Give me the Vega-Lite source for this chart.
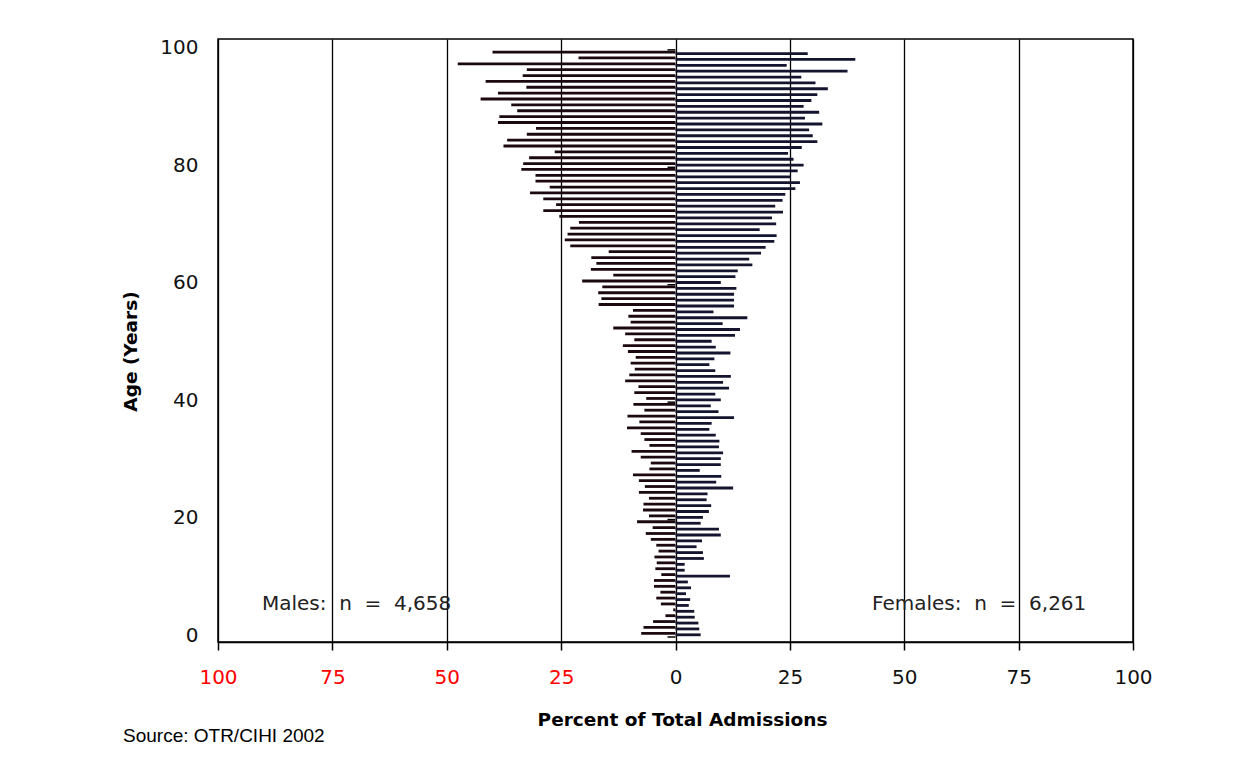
{
  "$schema": "https://vega.github.io/schema/vega-lite/v6.json",
  "width": 915,
  "height": 603,
  "autosize": {"type": "none"},
  "padding": {"left": 218, "top": 39, "right": 115, "bottom": 123},
  "background": "white",
  "config": {"view": {"stroke": "black", "strokeWidth": 1.5}, "font": "DejaVu Sans"},
  "title": {"text": "Source: OTR/CIHI 2002", "orient": "bottom", "anchor": "start", "frame": "group", "dx": -95, "offset": 13, "baseline": "alphabetic", "font": "Liberation Sans", "fontSize": 19, "fontWeight": "normal", "color": "black"},
  "data": {"values": [
    {"age": 99, "male": -40.0, "female": 28.9},
    {"age": 98, "male": -21.2, "female": 39.3},
    {"age": 97, "male": -47.6, "female": 24.3},
    {"age": 96, "male": -32.5, "female": 37.6},
    {"age": 95, "male": -33.4, "female": 27.5},
    {"age": 94, "male": -41.5, "female": 30.6},
    {"age": 93, "male": -32.6, "female": 33.3},
    {"age": 92, "male": -38.8, "female": 31.0},
    {"age": 91, "male": -42.6, "female": 29.7},
    {"age": 90, "male": -35.9, "female": 28.0},
    {"age": 89, "male": -34.6, "female": 31.4},
    {"age": 88, "male": -38.5, "female": 28.3},
    {"age": 87, "male": -38.8, "female": 32.1},
    {"age": 86, "male": -30.5, "female": 29.2},
    {"age": 85, "male": -32.5, "female": 30.0},
    {"age": 84, "male": -36.8, "female": 31.0},
    {"age": 83, "male": -37.6, "female": 27.6},
    {"age": 82, "male": -26.4, "female": 24.6},
    {"age": 81, "male": -32.0, "female": 25.8},
    {"age": 80, "male": -33.3, "female": 28.0},
    {"age": 79, "male": -33.7, "female": 26.7},
    {"age": 78, "male": -30.6, "female": 25.2},
    {"age": 77, "male": -30.6, "female": 27.2},
    {"age": 76, "male": -27.5, "female": 26.2},
    {"age": 75, "male": -31.8, "female": 24.0},
    {"age": 74, "male": -28.9, "female": 23.4},
    {"age": 73, "male": -26.1, "female": 21.8},
    {"age": 72, "male": -28.9, "female": 23.5},
    {"age": 71, "male": -25.4, "female": 21.1},
    {"age": 70, "male": -21.1, "female": 22.0},
    {"age": 69, "male": -23.0, "female": 18.4},
    {"age": 68, "male": -23.6, "female": 22.1},
    {"age": 67, "male": -24.2, "female": 21.6},
    {"age": 66, "male": -23.0, "female": 19.7},
    {"age": 65, "male": -14.6, "female": 18.7},
    {"age": 64, "male": -18.4, "female": 16.1},
    {"age": 63, "male": -17.3, "female": 16.8},
    {"age": 62, "male": -18.5, "female": 13.6},
    {"age": 61, "male": -13.6, "female": 13.1},
    {"age": 60, "male": -20.4, "female": 9.9},
    {"age": 59, "male": -16.0, "female": 13.3},
    {"age": 58, "male": -16.9, "female": 12.8},
    {"age": 57, "male": -16.2, "female": 12.8},
    {"age": 56, "male": -16.8, "female": 12.8},
    {"age": 55, "male": -9.3, "female": 8.3},
    {"age": 54, "male": -10.3, "female": 15.7},
    {"age": 53, "male": -9.8, "female": 10.3},
    {"age": 52, "male": -13.6, "female": 14.1},
    {"age": 51, "male": -11.0, "female": 13.0},
    {"age": 50, "male": -9.0, "female": 7.9},
    {"age": 49, "male": -11.5, "female": 8.8},
    {"age": 48, "male": -10.4, "female": 12.0},
    {"age": 47, "male": -8.7, "female": 8.5},
    {"age": 46, "male": -9.8, "female": 7.4},
    {"age": 45, "male": -8.9, "female": 8.7},
    {"age": 44, "male": -10.1, "female": 12.1},
    {"age": 43, "male": -11.0, "female": 10.4},
    {"age": 42, "male": -8.1, "female": 11.7},
    {"age": 41, "male": -9.0, "female": 8.7},
    {"age": 40, "male": -6.4, "female": 9.9},
    {"age": 39, "male": -9.2, "female": 7.7},
    {"age": 38, "male": -6.8, "female": 9.4},
    {"age": 37, "male": -10.5, "female": 12.8},
    {"age": 36, "male": -7.9, "female": 7.9},
    {"age": 35, "male": -10.6, "female": 7.4},
    {"age": 34, "male": -7.6, "female": 8.8},
    {"age": 33, "male": -6.8, "female": 9.6},
    {"age": 32, "male": -5.7, "female": 9.5},
    {"age": 31, "male": -9.6, "female": 10.4},
    {"age": 30, "male": -7.6, "female": 9.9},
    {"age": 29, "male": -5.4, "female": 9.9},
    {"age": 28, "male": -5.7, "female": 5.3},
    {"age": 27, "male": -9.3, "female": 10.0},
    {"age": 26, "male": -8.0, "female": 8.9},
    {"age": 25, "male": -6.7, "female": 12.6},
    {"age": 24, "male": -8.0, "female": 7.0},
    {"age": 23, "male": -5.8, "female": 6.8},
    {"age": 22, "male": -7.0, "female": 7.8},
    {"age": 21, "male": -7.1, "female": 7.3},
    {"age": 20, "male": -5.8, "female": 6.0},
    {"age": 19, "male": -8.4, "female": 5.5},
    {"age": 18, "male": -5.0, "female": 9.5},
    {"age": 17, "male": -6.5, "female": 9.9},
    {"age": 16, "male": -5.4, "female": 5.8},
    {"age": 15, "male": -4.2, "female": 4.6},
    {"age": 14, "male": -3.7, "female": 6.0},
    {"age": 13, "male": -4.6, "female": 6.2},
    {"age": 12, "male": -4.1, "female": 2.0},
    {"age": 11, "male": -4.4, "female": 2.0},
    {"age": 10, "male": -3.1, "female": 11.9},
    {"age": 9, "male": -4.7, "female": 2.7},
    {"age": 8, "male": -4.7, "female": 3.4},
    {"age": 7, "male": -3.3, "female": 2.3},
    {"age": 6, "male": -4.2, "female": 3.2},
    {"age": 5, "male": -3.2, "female": 2.9},
    {"age": 4, "male": -0.5, "female": 4.1},
    {"age": 3, "male": -2.2, "female": 4.2},
    {"age": 2, "male": -4.9, "female": 5.0},
    {"age": 1, "male": -7.0, "female": 5.2},
    {"age": 0, "male": -7.5, "female": 5.5}
  ]},
  "layer": [
    {
      "mark": {"type": "bar", "orient": "horizontal", "size": 2.8, "yOffset": -3.7, "color": "#1c0810"},
      "encoding": {
        "x": {
          "field": "male", "type": "quantitative",
          "scale": {"domain": [-100, 100], "nice": false},
          "title": "Percent of Total Admissions",
          "axis": {
            "values": [-100, -75, -50, -25, 0, 25, 50, 75, 100],
            "labelExpr": "abs(datum.value)",
            "labelColor": {"condition": {"test": "datum.value < 0", "value": "#ff0000"}, "value": "#111111"},
            "labelFont": "DejaVu Sans", "labelFontSize": 20, "labelPadding": 17, "labelFlush": false, "labelOverlap": false,
            "tickSize": 8, "tickColor": "black", "tickWidth": 1.5,
            "domainColor": "black", "domainWidth": 1.5,
            "grid": true, "gridColor": "black", "gridWidth": 1.3, "gridOpacity": 1,
            "titleFont": "DejaVu Sans", "titleFontSize": 18.5, "titleFontWeight": "bold", "titleColor": "black",
            "titleX": 464, "titleY": 83, "titleBaseline": "alphabetic", "titleAlign": "center"
          }
        },
        "y": {
          "field": "age", "type": "quantitative",
          "scale": {"domain": [0, 101], "nice": false},
          "title": "Age (Years)",
          "axis": {
            "values": [0, 20, 40, 60, 80, 100],
            "ticks": false, "domain": false, "grid": false,
            "labelFont": "DejaVu Sans", "labelFontSize": 20, "labelPadding": 20, "labelOffset": -2, "labelBaseline": "middle", "labelColor": "#111111", "labelFlush": false, "labelOverlap": false,
            "titleFont": "DejaVu Sans", "titleFontSize": 18.5, "titleFontWeight": "bold", "titleColor": "black",
            "titleX": -88, "titleY": 312, "titleAngle": 270, "titleBaseline": "middle", "titleAlign": "center"
          }
        }
      }
    },
    {
      "mark": {"type": "bar", "orient": "horizontal", "size": 2.8, "yOffset": -2.2, "color": "#14142e"},
      "encoding": {
        "x": {"field": "female", "type": "quantitative", "scale": {"domain": [-100, 100], "nice": false}, "title": "Percent of Total Admissions"},
        "y": {"field": "age", "type": "quantitative", "scale": {"domain": [0, 101], "nice": false}, "title": "Age (Years)"}
      }
    },
    {
      "data": {"values": [{"tick": 0}, {"tick": 20}, {"tick": 40}, {"tick": 60}, {"tick": 80}, {"tick": 100}]},
      "mark": {"type": "tick", "orient": "horizontal", "size": 8, "thickness": 1.5, "xOffset": -4, "color": "black", "opacity": 1},
      "encoding": {
        "x": {"datum": 0, "type": "quantitative", "scale": {"domain": [-100, 100], "nice": false}, "title": "Percent of Total Admissions"},
        "y": {"field": "tick", "type": "quantitative", "scale": {"domain": [0, 101], "nice": false}, "title": "Age (Years)"}
      }
    },
    {
      "data": {"values": [{"label": "Males:\u00a0\u00a0n\u00a0\u00a0=\u00a0\u00a04,658"}]},
      "mark": {"type": "text", "align": "left", "baseline": "alphabetic", "font": "DejaVu Sans", "fontSize": 20, "color": "#222222"},
      "encoding": {
        "x": {"datum": -90.4, "type": "quantitative", "scale": {"domain": [-100, 100], "nice": false}, "title": "Percent of Total Admissions"},
        "y": {"datum": 4.6, "type": "quantitative", "scale": {"domain": [0, 101], "nice": false}, "title": "Age (Years)"},
        "text": {"field": "label", "type": "nominal"}
      }
    },
    {
      "data": {"values": [{"label": "Females:\u00a0\u00a0n\u00a0\u00a0=\u00a0\u00a06,261"}]},
      "mark": {"type": "text", "align": "left", "baseline": "alphabetic", "font": "DejaVu Sans", "fontSize": 20, "color": "#222222"},
      "encoding": {
        "x": {"datum": 42.95, "type": "quantitative", "scale": {"domain": [-100, 100], "nice": false}, "title": "Percent of Total Admissions"},
        "y": {"datum": 4.6, "type": "quantitative", "scale": {"domain": [0, 101], "nice": false}, "title": "Age (Years)"},
        "text": {"field": "label", "type": "nominal"}
      }
    }
  ]
}
